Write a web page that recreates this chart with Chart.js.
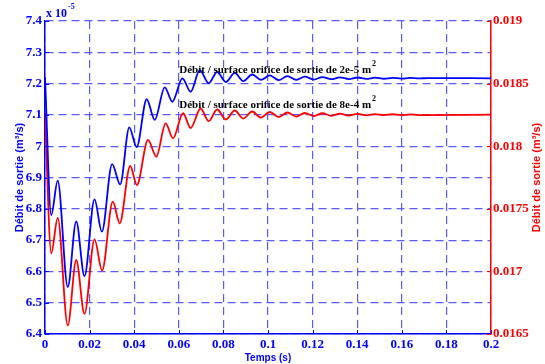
<!DOCTYPE html>
<html>
<head>
<meta charset="utf-8">
<script src="https://cdn.jsdelivr.net/npm/chart.js@4.4.0/dist/chart.umd.min.js"></script>
<style>
  body { margin: 0; background: #fff; }
  canvas { display: block; }
</style>
</head>
<body>
<canvas id="chart" width="545" height="364"></canvas>
<script>
// valeurs (extrema des oscillations)
const timeBlue = [0, 0.0028, 0.0057, 0.0102, 0.0140, 0.0177, 0.0222, 0.0255, 0.0301, 0.0337,
  0.0378, 0.0411, 0.0456, 0.0492, 0.0537, 0.0571, 0.0616, 0.0653, 0.0694, 0.0734,
  0.0772, 0.0811, 0.0851, 0.0889, 0.0929, 0.0968, 0.1008, 0.1048, 0.1087, 0.1127,
  0.1165, 0.1206, 0.1244, 0.1284, 0.1322, 0.1363, 0.1401, 0.1441, 0.1480, 0.1520,
  0.1558, 0.1599, 0.1637, 0.1677, 0.1717, 0.2];
// debit (x 1e-5 m3/s), surface orifice 2e-5 m2
const flowBlue = [7.22, 6.78, 6.89, 6.55, 6.76, 6.585, 6.83, 6.727, 6.943, 6.878,
  7.06, 6.997, 7.15, 7.084, 7.188, 7.142, 7.217, 7.174, 7.243, 7.201,
  7.237, 7.205, 7.234, 7.208, 7.229, 7.212, 7.226, 7.211, 7.224, 7.212,
  7.222, 7.213, 7.221, 7.214, 7.220, 7.2145, 7.2195, 7.215, 7.219, 7.2155,
  7.2185, 7.216, 7.218, 7.2165, 7.2177, 7.217];

const timeRed = [0, 0.0028, 0.0057, 0.0102, 0.0140, 0.0177, 0.0222, 0.0256, 0.0304, 0.0335,
  0.0382, 0.0412, 0.0462, 0.0499, 0.0541, 0.0574, 0.0619, 0.0653, 0.0698, 0.0734,
  0.0772, 0.0811, 0.0851, 0.0889, 0.0929, 0.0968, 0.1008, 0.1048, 0.1087, 0.1127,
  0.1165, 0.1206, 0.1244, 0.1284, 0.1322, 0.1363, 0.1401, 0.1441, 0.1480, 0.1520,
  0.1558, 0.1599, 0.1637, 0.1677, 0.2];
// debit (m3/s), surface orifice 8e-4 m2 (axe de droite)
const flowRed = [0.018265, 0.017145, 0.017427, 0.016568, 0.017091, 0.016661, 0.017256, 0.017007, 0.017557, 0.017384,
  0.017842, 0.017690, 0.018050, 0.017916, 0.018183, 0.018063, 0.018263, 0.018145, 0.018301, 0.018201,
  0.018293, 0.018213, 0.018285, 0.018221, 0.018277, 0.018229, 0.018273, 0.018233, 0.018269, 0.018237,
  0.018265, 0.018241, 0.018263, 0.018243, 0.018260, 0.018245, 0.018258, 0.018247, 0.018256, 0.018248,
  0.018255, 0.018248, 0.018254, 0.018249, 0.018252];

const xTicks = ['0', '0.02', '0.04', '0.06', '0.08', '0.1', '0.12', '0.14', '0.16', '0.18', '0.2'];
const leftTicks = ['6.4', '6.5', '6.6', '6.7', '6.8', '6.9', '7', '7.1', '7.2', '7.3', '7.4'];
const rightTicks = ['0.0165', '0.017', '0.0175', '0.018', '0.0185', '0.019'];

const legendBlue = 'Débit / surface orifice de sortie de 2e-5 m';
const legendRed = 'Débit / surface orifice de sortie de 8e-4 m';

const BLUE = '#0000ff';
const RED = '#ff0000';
const GRID = '#5a5aff';
const serif = 'Liberation Serif, Times New Roman, serif';
const sans = 'Liberation Sans, Arial, sans-serif';

function toPoints(xs, ys) {
  return xs.map((x, i) => ({ x: x, y: ys[i] }));
}

// textes, petites graduations interieures, etc.
const extras = {
  id: 'extras',
  afterDraw(chart) {
    const ctx = chart.ctx;
    const a = chart.chartArea;
    const sx = chart.scales.x, sy = chart.scales.y, sy1 = chart.scales.y1;
    ctx.save();

    ctx.lineWidth = 1;
    ctx.strokeStyle = BLUE;
    sx.ticks.forEach(t => {
      const px = Math.round(sx.getPixelForValue(t.value)) + 0.5;
      ctx.beginPath(); ctx.moveTo(px, a.bottom); ctx.lineTo(px, a.bottom - 4); ctx.stroke();
    });
    sy.ticks.forEach(t => {
      const py = Math.round(sy.getPixelForValue(t.value)) + 0.5;
      ctx.beginPath(); ctx.moveTo(a.left, py); ctx.lineTo(a.left + 4, py); ctx.stroke();
    });
    ctx.strokeStyle = RED;
    sy1.ticks.forEach(t => {
      const py = Math.round(sy1.getPixelForValue(t.value)) + 0.5;
      ctx.beginPath(); ctx.moveTo(a.right, py); ctx.lineTo(a.right - 4, py); ctx.stroke();
    });

    // multiplicateur x 10^-5
    ctx.fillStyle = BLUE;
    ctx.textBaseline = 'alphabetic';
    ctx.textAlign = 'left';
    ctx.font = 'bold 12px ' + serif;
    ctx.fillText('x 10', a.left + 1, a.top - 4);
    const w10 = ctx.measureText('x 10').width;
    ctx.font = 'bold 8px ' + serif;
    ctx.fillText('-5', a.left + 2 + w10, a.top - 12);

    // titres des axes
    ctx.font = 'bold 11px ' + sans;
    ctx.textAlign = 'center';
    ctx.textBaseline = 'middle';
    const cy = (a.top + a.bottom) / 2;
    ctx.fillStyle = BLUE;
    ctx.save(); ctx.translate(20, cy); ctx.rotate(-Math.PI / 2);
    ctx.fillText('Débit de sortie (m³/s)', 0, 0); ctx.restore();
    ctx.fillStyle = RED;
    ctx.save(); ctx.translate(537, cy); ctx.rotate(-Math.PI / 2);
    ctx.fillText('Débit de sortie (m³/s)', 0, 0); ctx.restore();
    ctx.fillStyle = BLUE;
    ctx.font = 'bold 10px ' + sans;
    ctx.fillText('Temps (s)', (a.left + a.right) / 2, 358);

    // etiquettes des courbes
    ctx.fillStyle = '#000';
    ctx.textAlign = 'left';
    ctx.textBaseline = 'alphabetic';
    const lx = sx.getPixelForValue(0.0602);
    [[legendBlue, sy.getPixelForValue(7.234)], [legendRed, sy.getPixelForValue(7.122)]].forEach(([txt, by]) => {
      ctx.font = 'bold 11px ' + serif;
      ctx.fillText(txt, lx, by);
      const w = ctx.measureText(txt).width;
      ctx.font = 'bold 8px ' + serif;
      ctx.fillText('2', lx + w + 1, by - 7);
    });

    ctx.restore();
  }
};

function renderChart() {
  const ctx = document.getElementById('chart').getContext('2d');
  new Chart(ctx, {
    type: 'line',
    data: {
      datasets: [
        { data: toPoints(timeBlue, flowBlue), yAxisID: 'y', borderColor: BLUE, borderWidth: 1.8,
          pointRadius: 0, cubicInterpolationMode: 'monotone', fill: false },
        { data: toPoints(timeRed, flowRed), yAxisID: 'y1', borderColor: RED, borderWidth: 1.8,
          pointRadius: 0, cubicInterpolationMode: 'monotone', fill: false }
      ]
    },
    options: {
      responsive: false,
      animation: false,
      devicePixelRatio: 1,
      layout: { padding: { top: 21, left: 0, right: 0, bottom: 0 } },
      plugins: { legend: { display: false }, tooltip: { enabled: false } },
      scales: {
        x: {
          type: 'linear', position: 'bottom', min: 0, max: 0.2,
          afterFit: s => { s.height = 30; },
          ticks: { stepSize: 0.02, color: BLUE, padding: 3, maxRotation: 0,
            font: { family: serif, weight: 'bold', size: 13 },
            callback: (v, i) => xTicks[i] },
          grid: { color: GRID, lineWidth: 1.2, drawTicks: false },
          border: { display: true, color: BLUE, width: 1.5, dash: [8, 5] }
        },
        y: {
          position: 'left', min: 6.4, max: 7.4,
          afterFit: s => { s.width = 45; },
          ticks: { stepSize: 0.1, color: BLUE, padding: 3,
            font: { family: serif, weight: 'bold', size: 13 },
            callback: (v, i) => leftTicks[i] },
          grid: { color: GRID, lineWidth: 1.2, drawTicks: false },
          border: { display: true, color: BLUE, width: 1.5, dash: [8, 5] }
        },
        y1: {
          position: 'right', min: 0.0165, max: 0.019,
          afterFit: s => { s.width = 54; },
          ticks: { stepSize: 0.0005, color: RED, padding: 2,
            font: { family: serif, weight: 'bold', size: 13 },
            callback: (v, i) => rightTicks[i] },
          grid: { drawOnChartArea: false, drawTicks: false },
          border: { display: true, color: RED, width: 1.5 }
        }
      }
    },
    plugins: [extras]
  });
}

renderChart();
</script>
</body>
</html>
